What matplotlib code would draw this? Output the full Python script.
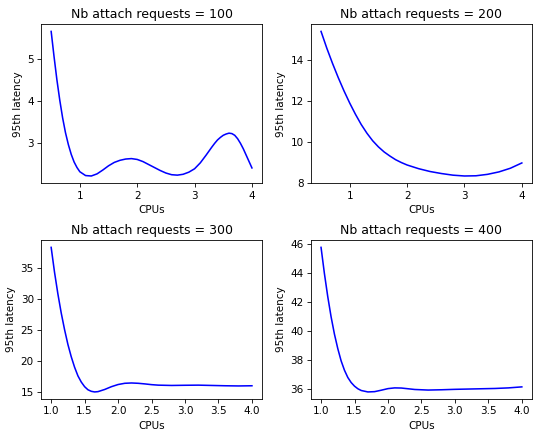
import matplotlib
matplotlib.use("Agg")
import matplotlib.pyplot as plt

# values, one list per panel
cpus_100 = [0.5, 0.55, 0.6, 0.65, 0.7, 0.75, 0.8, 0.85, 0.9, 0.95, 1.0, 1.1, 1.2, 1.3, 1.4, 1.5, 1.6, 1.7, 1.8, 1.9,
            2.0, 2.1, 2.2, 2.3, 2.4, 2.5, 2.6, 2.7, 2.8, 2.9, 3.0, 3.1, 3.2, 3.3, 3.35, 3.4, 3.45, 3.5, 3.55, 3.6,
            3.65, 3.7, 3.75, 3.8, 3.85, 3.9, 3.95, 4.0]
lat_100 = [5.64, 5.05, 4.5, 4.02, 3.6, 3.25, 2.97, 2.74, 2.56, 2.43, 2.33, 2.24, 2.23, 2.28, 2.37, 2.47, 2.55, 2.6, 2.63, 2.64,
           2.62, 2.57, 2.5, 2.43, 2.36, 2.3, 2.26, 2.25, 2.27, 2.32, 2.4, 2.54, 2.72, 2.91, 3.0, 3.08, 3.14, 3.19, 3.22, 3.24,
           3.23, 3.19, 3.11, 3.0, 2.87, 2.72, 2.57, 2.42]

cpus_200 = [0.5, 0.6, 0.7, 0.8, 0.9, 1.0, 1.1, 1.2, 1.3, 1.4, 1.5, 1.6, 1.7, 1.8, 1.9, 2.0, 2.2, 2.4, 2.6, 2.8,
            3.0, 3.2, 3.4, 3.6, 3.8, 4.0]
lat_200 = [15.42, 14.6, 13.85, 13.15, 12.5, 11.9, 11.35, 10.85, 10.42, 10.05, 9.75, 9.5, 9.3, 9.12, 8.98, 8.86, 8.68, 8.54,
           8.44, 8.36, 8.32, 8.33, 8.4, 8.52, 8.7, 8.96]

cpus_300 = [1.0, 1.05, 1.1, 1.15, 1.2, 1.25, 1.3, 1.35, 1.4, 1.45, 1.5, 1.55, 1.6, 1.65, 1.7, 1.8, 1.9, 2.0, 2.1, 2.2,
            2.3, 2.4, 2.5, 2.6, 2.8, 3.0, 3.2, 3.4, 3.6, 3.8, 4.0]
lat_300 = [38.4, 34.4, 30.9, 27.8, 25.1, 22.7, 20.7, 19.0, 17.6, 16.6, 15.85, 15.35, 15.1, 15.0, 15.05, 15.4, 15.85, 16.2,
           16.4, 16.45, 16.4, 16.3, 16.18, 16.1, 16.05, 16.08, 16.1, 16.05, 16.0, 15.97, 16.0]

cpus_400 = [1.0, 1.05, 1.1, 1.15, 1.2, 1.25, 1.3, 1.35, 1.4, 1.45, 1.5, 1.55, 1.6, 1.7, 1.8, 1.9, 2.0, 2.1, 2.2, 2.3,
            2.4, 2.6, 2.8, 3.0, 3.2, 3.4, 3.6, 3.8, 4.0]
lat_400 = [45.8, 44.0, 42.4, 41.0, 39.8, 38.8, 37.95, 37.3, 36.8, 36.45, 36.2, 36.02, 35.9, 35.8, 35.82, 35.92, 36.03, 36.08,
           36.07, 36.02, 35.97, 35.93, 35.95, 35.98, 36.0, 36.02, 36.04, 36.08, 36.15]

nb_requests = [100, 200, 300, 400]
series = [(cpus_100, lat_100), (cpus_200, lat_200), (cpus_300, lat_300), (cpus_400, lat_400)]

# original looks like a bigger figure shrunk down, so draw at a low dpi
fig, axes = plt.subplots(2, 2, figsize=(7.12, 5.76), dpi=75)
for ax, nb, (x, y) in zip(axes.flat, nb_requests, series):
    ax.plot(x, y, color="b")
    ax.set_title("Nb attach requests = " + str(nb))
    ax.set_xlabel("CPUs")
    ax.set_ylabel("95th latency")

axes[0, 0].set_yticks([3, 4, 5])
axes[0, 1].set_yticks([8, 10, 12, 14])
axes[1, 0].set_yticks([15, 20, 25, 30, 35])
axes[1, 1].set_yticks([36, 38, 40, 42, 44, 46])
for ax in axes[1]:
    ax.set_xticks([1.0, 1.5, 2.0, 2.5, 3.0, 3.5, 4.0])

# the reference was saved tight, axes run almost to the right edge
fig.subplots_adjust(left=0.077, right=0.996, top=0.944, bottom=0.076, wspace=0.222, hspace=0.358)
plt.savefig("out.png")
